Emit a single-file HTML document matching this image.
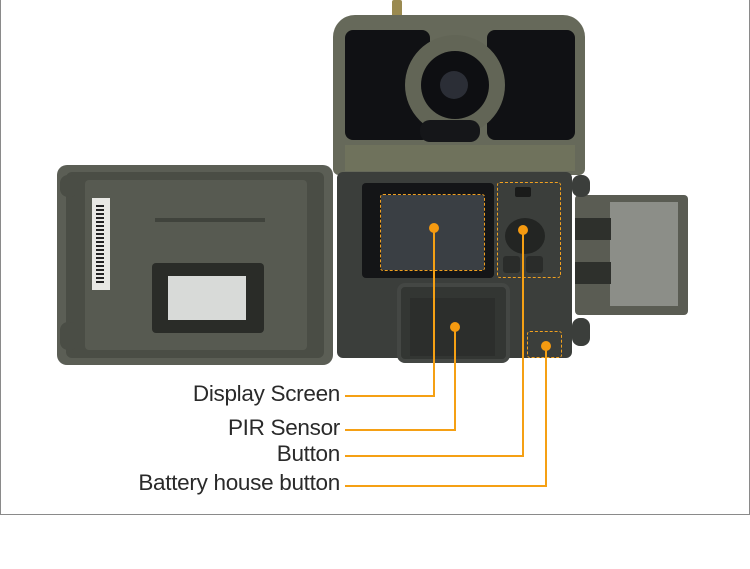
<!DOCTYPE html>
<html><head><meta charset="utf-8"><style>
body{margin:0;width:750px;height:569px;background:#fff;position:relative;overflow:hidden;font-family:"Liberation Sans",sans-serif}
div{position:absolute;box-sizing:border-box}
.frame{left:0;top:-2px;width:750px;height:517px;border:1px solid #8a8a8a;border-top:none}
.lbl{color:#2a2a2a;font-size:22.5px;text-align:right;right:410px;white-space:nowrap;letter-spacing:-0.3px}
.ln{background:#f5a014}
.dot{width:10px;height:10px;border-radius:50%;background:#f59a10}
.dash{border:1.5px dashed #f0a020;border-radius:3px}
</style></head><body>
<div class="frame"></div>

<!-- left door -->
<div style="left:57px;top:165px;width:276px;height:200px;background:#5b5e55;border-radius:10px"></div>
<div style="left:66px;top:172px;width:258px;height:186px;background:#4a4d45;border-radius:6px"></div>
<div style="left:85px;top:180px;width:222px;height:170px;background:#575a51;border-radius:4px"></div>
<div style="left:60px;top:175px;width:18px;height:22px;background:#4a4d45;border-radius:8px"></div>
<div style="left:60px;top:322px;width:18px;height:28px;background:#4a4d45;border-radius:8px"></div>
<div style="left:92px;top:198px;width:18px;height:92px;background:#e8e8e4"></div>
<div style="left:96px;top:205px;width:8px;height:78px;background:repeating-linear-gradient(#222 0 2px,#e8e8e4 2px 4px)"></div>
<div style="left:152px;top:263px;width:112px;height:70px;background:#2a2c28;border-radius:4px"></div>
<div style="left:168px;top:276px;width:78px;height:44px;background:#d8dad8"></div>
<div style="left:155px;top:218px;width:110px;height:4px;background:#40433c"></div>

<!-- right door -->
<div style="left:575px;top:195px;width:113px;height:120px;background:#5a5c53;border-radius:4px"></div>
<div style="left:610px;top:202px;width:68px;height:104px;background:#8c8e88"></div>
<div style="left:575px;top:218px;width:36px;height:22px;background:#2e302c"></div>
<div style="left:575px;top:262px;width:36px;height:22px;background:#2e302c"></div>

<!-- camera head -->
<div style="left:392px;top:0;width:10px;height:18px;background:#9a8a50;border-radius:2px"></div>
<div style="left:333px;top:15px;width:252px;height:160px;background:#66695a;border-radius:22px 22px 6px 6px"></div>
<div style="left:345px;top:30px;width:85px;height:110px;background:#101114;border-radius:8px"></div>
<div style="left:487px;top:30px;width:88px;height:110px;background:#101114;border-radius:8px"></div>
<div style="left:405px;top:35px;width:100px;height:100px;background:#626556;border-radius:50%"></div>
<div style="left:421px;top:51px;width:68px;height:68px;background:#0e0f12;border-radius:50%"></div>
<div style="left:440px;top:71px;width:28px;height:28px;background:#2b2e36;border-radius:50%"></div>
<div style="left:420px;top:120px;width:60px;height:22px;background:#151619;border-radius:10px"></div>
<div style="left:345px;top:145px;width:230px;height:26px;background:#6f725c"></div>

<!-- body -->
<div style="left:337px;top:172px;width:235px;height:186px;background:#3b3e3b;border-radius:6px"></div>
<div style="left:362px;top:183px;width:132px;height:95px;background:#141517;border-radius:4px"></div>
<div style="left:381px;top:195px;width:103px;height:75px;background:#3a3f44"></div>
<div style="left:505px;top:218px;width:40px;height:36px;background:#232523;border-radius:50%"></div>
<div style="left:503px;top:256px;width:17px;height:17px;background:#2a2c2a;border-radius:3px"></div>
<div style="left:526px;top:256px;width:17px;height:17px;background:#2a2c2a;border-radius:3px"></div>
<div style="left:515px;top:187px;width:16px;height:10px;background:#1a1b1a;border-radius:2px"></div>
<div style="left:397px;top:283px;width:113px;height:80px;background:#333633;border-radius:8px;border:4px solid #444744"></div>
<div style="left:410px;top:298px;width:85px;height:58px;background:#2c2e2c"></div>
<div style="left:572px;top:175px;width:18px;height:22px;background:#3b3e3b;border-radius:8px"></div>
<div style="left:572px;top:318px;width:18px;height:28px;background:#3b3e3b;border-radius:8px"></div>

<!-- dashed boxes -->
<div class="dash" style="left:380px;top:194px;width:105px;height:77px"></div>
<div class="dash" style="left:497px;top:182px;width:64px;height:96px"></div>
<div class="dash" style="left:527px;top:331px;width:35px;height:27px"></div>

<!-- leader lines -->
<div class="ln" style="left:433px;top:228px;width:2px;height:168px"></div>
<div class="ln" style="left:345px;top:395px;width:90px;height:2px"></div>
<div class="ln" style="left:454px;top:327px;width:2px;height:104px"></div>
<div class="ln" style="left:345px;top:429px;width:111px;height:2px"></div>
<div class="ln" style="left:522px;top:230px;width:2px;height:227px"></div>
<div class="ln" style="left:345px;top:455px;width:179px;height:2px"></div>
<div class="ln" style="left:545px;top:346px;width:2px;height:141px"></div>
<div class="ln" style="left:345px;top:485px;width:202px;height:2px"></div>

<div class="dot" style="left:429px;top:223px"></div>
<div class="dot" style="left:450px;top:322px"></div>
<div class="dot" style="left:518px;top:225px"></div>
<div class="dot" style="left:541px;top:341px"></div>

<div class="lbl" style="top:381px">Display Screen</div>
<div class="lbl" style="top:415px">PIR Sensor</div>
<div class="lbl" style="top:441px">Button</div>
<div class="lbl" style="top:470px">Battery house button</div>
</body></html>
